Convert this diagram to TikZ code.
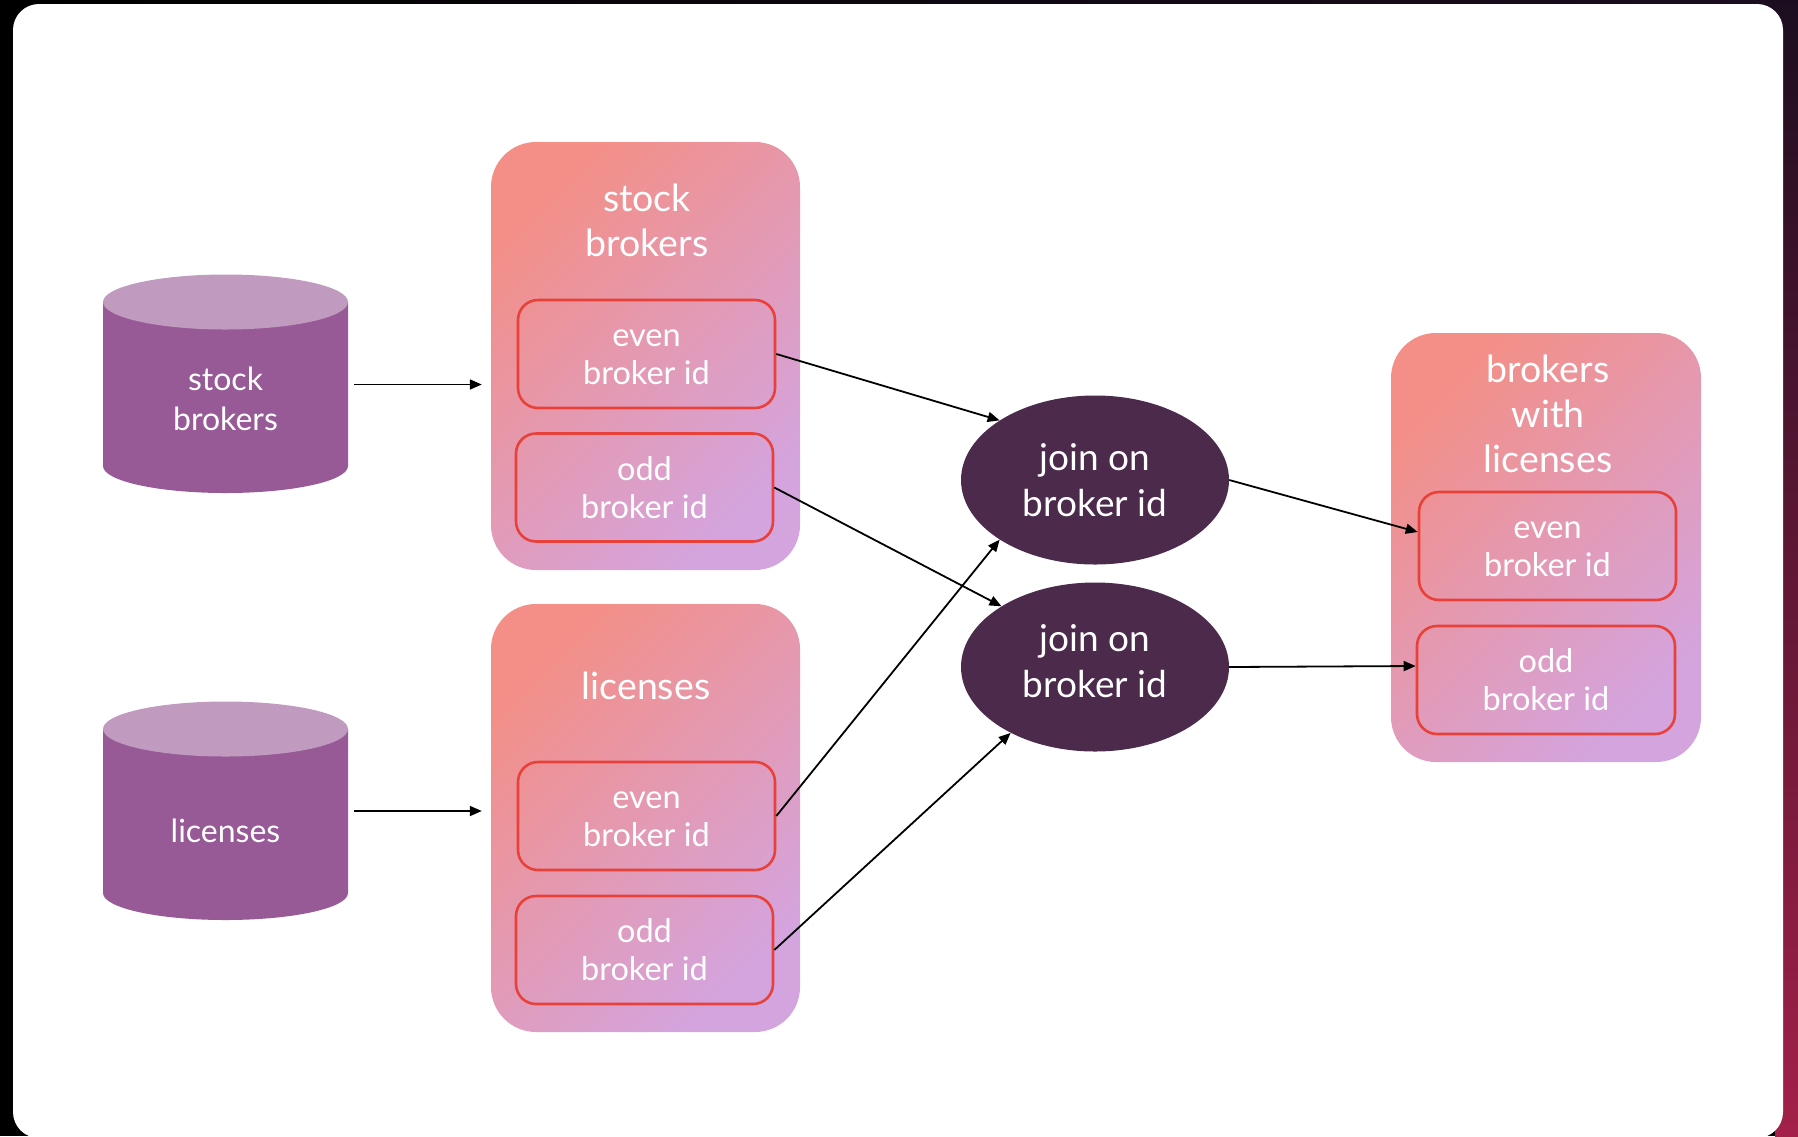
\documentclass[tikz,border=0pt]{standalone}
\usepackage{fontspec}
\setmainfont{Lato}
\usetikzlibrary{arrows.meta,shapes.geometric,calc}
\definecolor{cylbody}{HTML}{975A96}
\definecolor{cyltop}{HTML}{C19ABF}
\definecolor{joinfill}{HTML}{4B2A4B}
\definecolor{redline}{HTML}{E8413A}
\definecolor{gradA}{HTML}{F38F87}
\definecolor{gradB}{HTML}{D4A4DF}
\definecolor{frameTop}{HTML}{1C0E20}
\definecolor{frameBot}{HTML}{A32049}
\begin{document}
\begin{tikzpicture}[x=1pt,y=-1pt,
  bigbox/.style={rectangle, rounded corners=45pt, top color=gradA, bottom color=gradB, shading angle=45, draw=none, minimum width=309pt, minimum height=428pt, inner sep=0pt},
  idbox/.style={rectangle, rounded corners=20pt, draw=redline, line width=2.6pt, minimum width=257pt, minimum height=108pt, inner sep=0pt, align=center, text=white, font=\fontsize{32.5}{38}\selectfont},
  titletext/.style={align=center, text=white, inner sep=0pt, font=\fontsize{37.5}{45}\selectfont},
  joinnode/.style={ellipse, fill=joinfill, minimum width=268pt, minimum height=169pt, inner sep=0pt, align=center, text=white, font=\fontsize{37}{46}\selectfont},
  cyltext/.style={align=center, text=white, inner sep=0pt, font=\fontsize{32}{40}\selectfont},
  cylarea/.style={rectangle, minimum width=245pt, minimum height=218pt, inner sep=0pt},
  conn/.style={draw=black, line width=1.8pt, -{Triangle[length=12pt,width=10pt]}}
]
\useasboundingbox (0,0) rectangle (1798,1136);
% frame background
\fill[black] (0,0) rectangle (1798,1136);
\shade[left color=black, right color=frameTop] (0,0) rectangle (1798,12);
\shade[top color=frameTop, bottom color=frameBot] (1775,0) rectangle (1798,1136);
% card
\fill[white, rounded corners=26pt] (13,4) rectangle (1783,1138);

% cylinders
\fill[cylbody] (103,302) -- (103,466) arc[start angle=180, end angle=360, x radius=122.5pt, y radius=27pt] -- (348,302) -- cycle;
\fill[cyltop] (225.5,302) ellipse [x radius=122.5pt, y radius=27.5pt];
\node[cylarea] (cs) at (225.5,384.5) {};
\node[cyltext] (cst) at (225.5,399) {stock\\brokers};

\fill[cylbody] (103,729) -- (103,893) arc[start angle=180, end angle=360, x radius=122.5pt, y radius=27pt] -- (348,729) -- cycle;
\fill[cyltop] (225.5,729) ellipse [x radius=122.5pt, y radius=27.5pt];
\node[cylarea] (cl) at (225.5,811) {};
\node[cyltext] (clt) at (225.5,831) {licenses};

% big boxes
\node[bigbox] (sb) at (645.5,356) {};
\node[titletext] (sbt) at (647,220) {stock\\brokers};
\node[idbox] (sbe) at (646.5,354) {\vphantom{k}even\\broker id};
\node[idbox] (sbo) at (644.5,487.5) {odd\\broker id};

\node[bigbox] (lic) at (645.5,818) {};
\node[titletext] (lict) at (646,686) {licenses};
\node[idbox] (le) at (646.5,816) {\vphantom{k}even\\broker id};
\node[idbox] (lo) at (644.5,950) {odd\\broker id};

\node[bigbox, minimum width=310pt, minimum height=429pt] (bwl) at (1546,547.5) {};
\node[titletext] (bwlt) at (1548,414) {brokers\\with\\licenses};
\node[idbox] (re) at (1547.5,546) {\vphantom{k}even\\broker id};
\node[idbox, minimum width=258pt] (ro) at (1546,680) {odd\\broker id};

% joins
\node[joinnode] (j1) at (1095,480) {join on\\broker id};
\node[joinnode] (j2) at (1095,667) {join on\\broker id\rule[-13pt]{0pt}{13pt}};

% connectors
\draw[conn, shorten <=6pt, shorten >=9pt] (cs.east) -- (cs.east -| sb.west);
\draw[conn, shorten <=6pt, shorten >=9pt] (cl.east) -- (cl.east -| lic.west);
\draw[conn] (sbe.east) -- (j1.148);
\draw[conn] (sbo.east) -- (j2.147);
\draw[conn] (le.east) -- (j1.212);
\draw[conn] (lo.east) -- (j2.218);
\draw[conn] (j1.east) -- ([yshift=14pt]re.west);
\draw[conn] (j2.east) -- ([yshift=14pt]ro.west);
\end{tikzpicture}
\end{document}
